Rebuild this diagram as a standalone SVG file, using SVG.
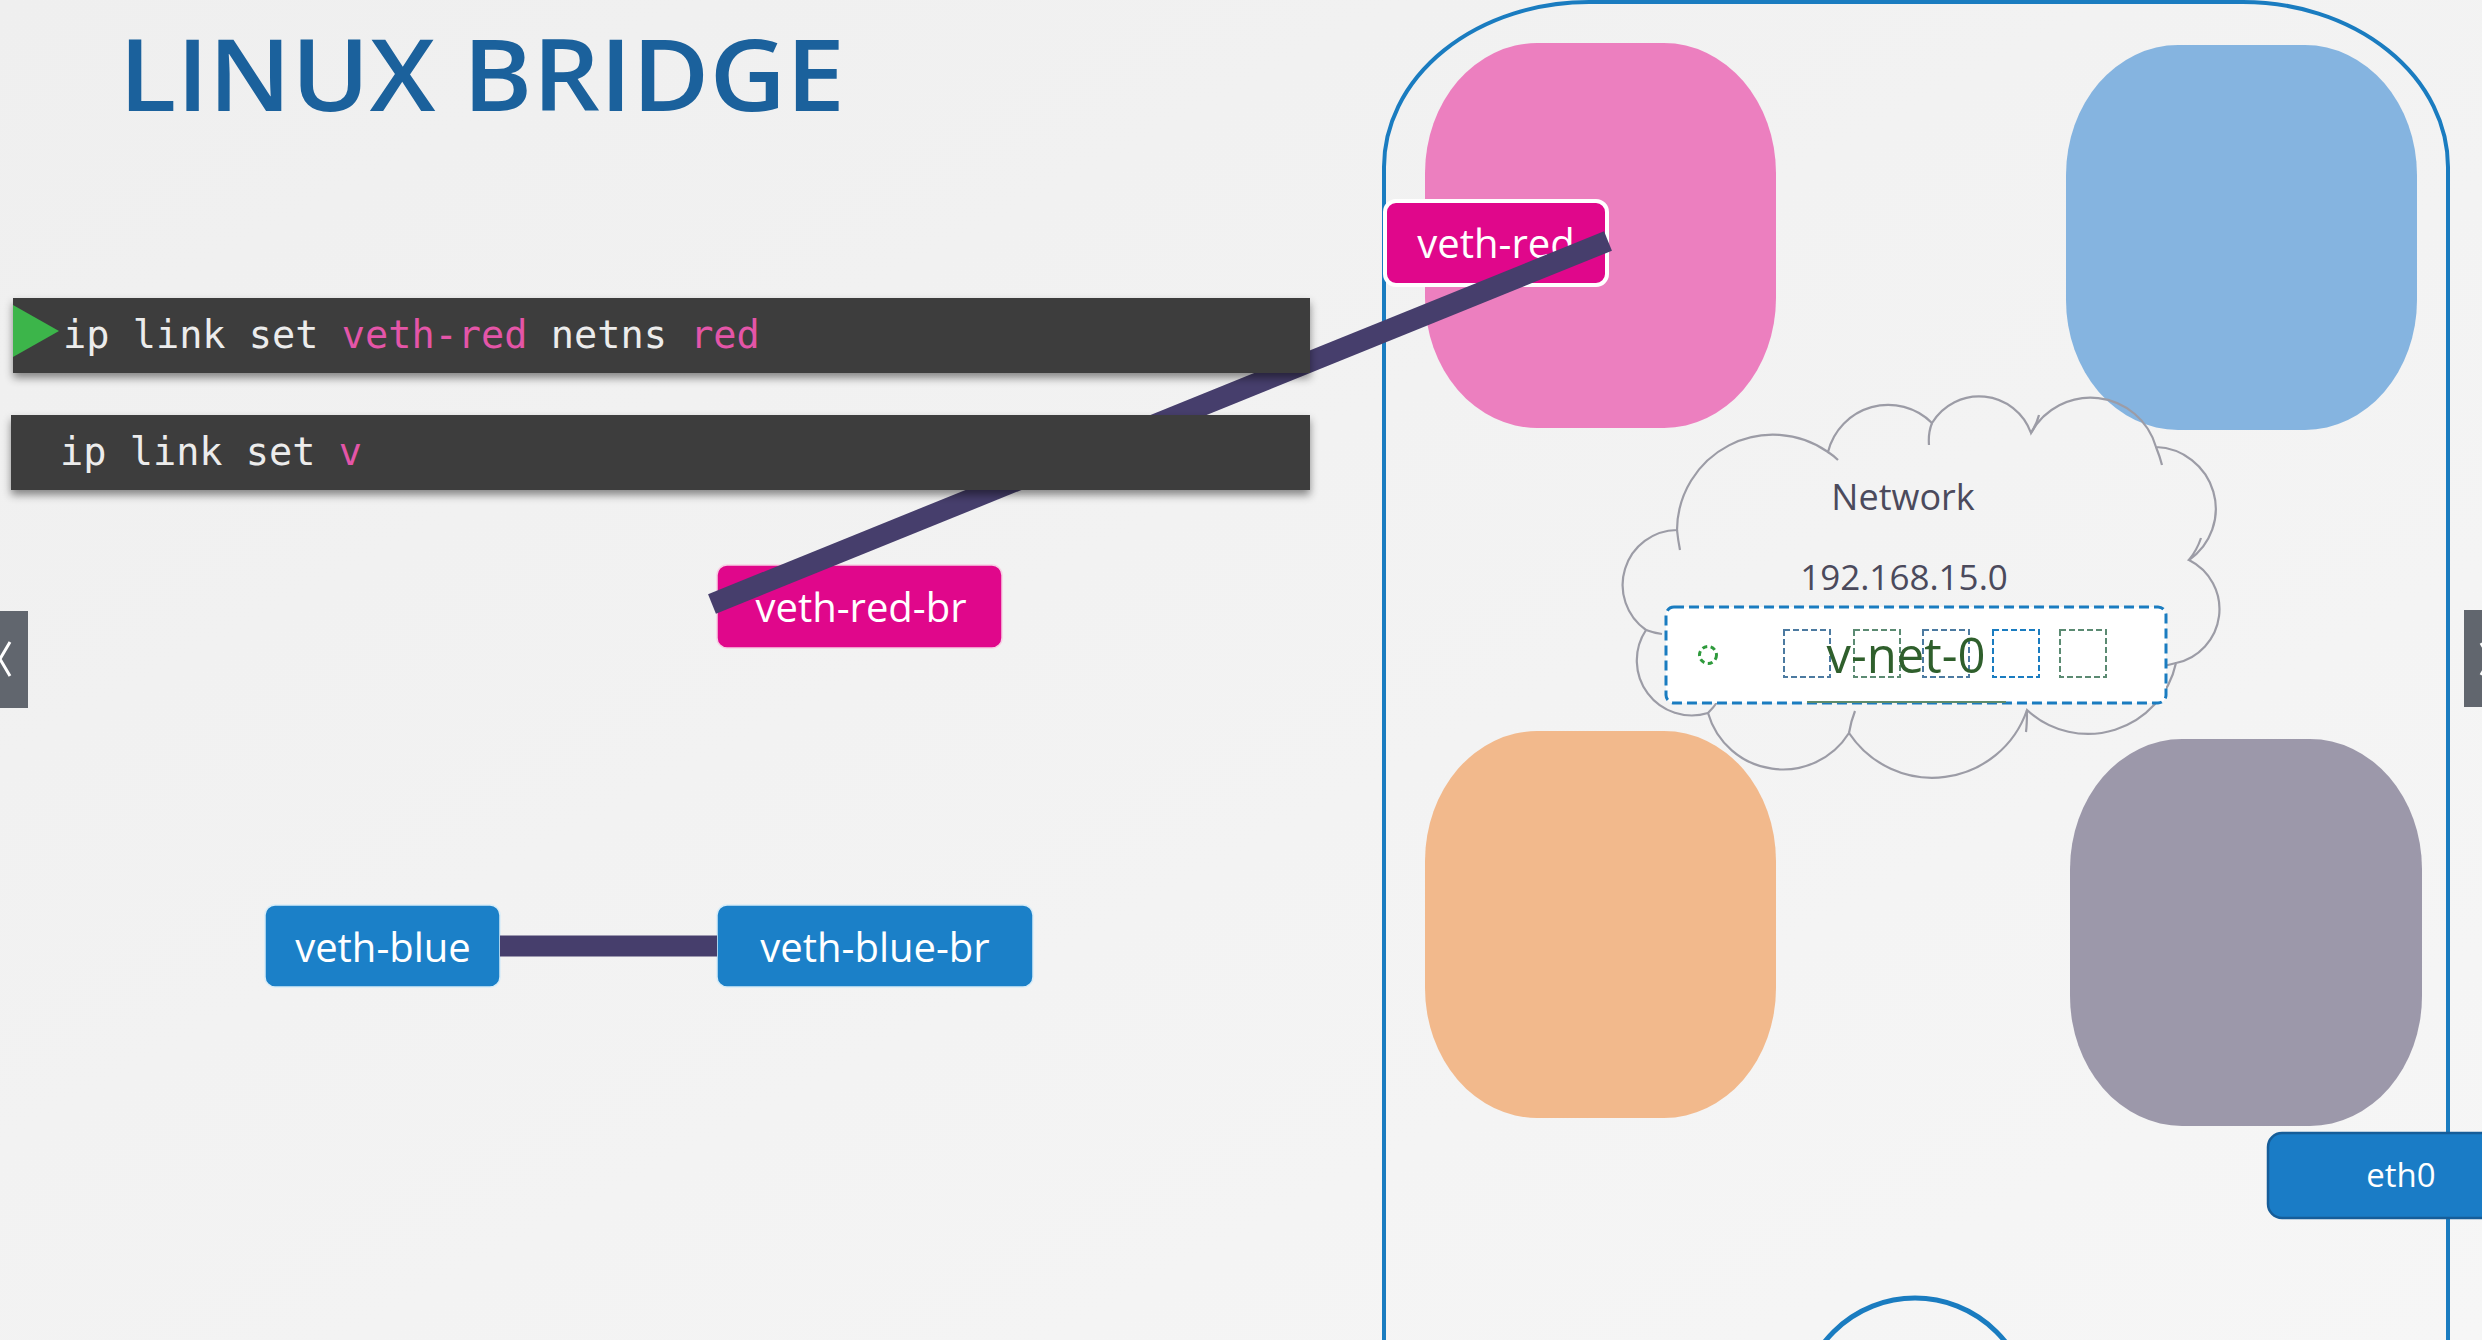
<svg xmlns="http://www.w3.org/2000/svg" width="2482" height="1340" viewBox="0 0 2482 1340">
  <defs>
    <linearGradient id="bg" x1="0" y1="0" x2="1" y2="1">
      <stop offset="0" stop-color="#efefef"/>
      <stop offset="1" stop-color="#f6f6f6"/>
    </linearGradient>
    <filter id="shadow" x="-5%" y="-20%" width="110%" height="160%">
      <feDropShadow dx="0" dy="5" stdDeviation="4" flood-color="#000" flood-opacity="0.45"/>
    </filter>
    <style>
      .title { font-family: "Open Sans", "Liberation Sans", sans-serif; font-weight: 600; fill: #1b619c; }
      .term { fill: #3d3d3d; }
      .cmd { font-family: "DejaVu Sans Mono", "Liberation Mono", monospace; font-size: 38.6px; fill: #ececec; }
      .hl { fill: #e455a8; }
      .lbl { font-family: "Open Sans", "Noto Sans", sans-serif; font-size: 40px; fill: #ffffff; text-anchor: middle; }
      .pinkbox { fill: #e0078b; }
      .bluebox { fill: #1b80c8; stroke: #d7ecf8; stroke-width: 1.5; }
      .ns { stroke: none; }
      .cloud { fill: none; stroke: #9c9ca6; stroke-width: 2.2; }
      .ctext { font-family: "Open Sans", "Noto Sans", sans-serif; fill: #4b4a5c; text-anchor: middle; }
      .link { stroke: #463e6c; stroke-width: 21; stroke-linecap: butt; fill: none; }
      .sq { fill: none; stroke-width: 2; stroke-dasharray: 6 3; }
    </style>
  </defs>

  <rect x="0" y="0" width="2482" height="1340" fill="url(#bg)"/>

  <!-- host container -->
  <g id="host">
    <rect x="1384" y="2" width="1064" height="1700" rx="205" ry="165" fill="none" stroke="#1a7cc0" stroke-width="4"/>
    <circle cx="1915" cy="1413" r="115" fill="none" stroke="#1a7cc0" stroke-width="5"/>
  </g>

  <!-- namespaces -->
  <g id="ns-red"><rect class="ns" x="1425" y="43" width="351" height="385" rx="112" ry="130" fill="#ec7fbf"/></g>
  <g id="ns-blue"><rect class="ns" x="2066" y="45" width="351" height="385" rx="112" ry="130" fill="#85b4e0"/></g>
  <g id="ns-orange"><rect class="ns" x="1425" y="731" width="351" height="387" rx="112" ry="130" fill="#f2b98c"/></g>
  <g id="ns-gray"><rect class="ns" x="2070" y="739" width="352" height="387" rx="112" ry="130" fill="#9c98aa"/></g>

  <!-- network cloud -->
  <g id="network">
    <path class="cloud" d="M1677,530 A96,96 0 0 1 1828,452 A62,62 0 0 1 1932,423 A55,55 0 0 1 2031,433 A68,68 0 0 1 2156,447 A62,62 0 0 1 2189,560 A55,55 0 0 1 2176,663 A90,90 0 0 1 2027,710 A100,100 0 0 1 1849,733 A78,78 0 0 1 1708,713 A55,55 0 0 1 1646,630 A55,55 0 0 1 1677,530 Z"/>
    <path class="cloud" d="M1828,452 q6,4 10,8 M1677,530 q1,10 3,20 M1932,423 q-4,10 -3,22 M2031,433 q6,-10 8,-18 M2156,447 q4,10 6,18 M2189,560 q8,-10 12,-22 M2176,663 q-8,2 -16,4 M2027,710 q0,14 -1,22 M1849,733 q2,-12 6,-22 M1708,713 q6,-6 10,-12 M1646,630 q8,3 16,4"/>
    <text class="ctext" x="1903" y="510" font-size="36">Network</text>
    <text class="ctext" x="1904" y="590" font-size="35">192.168.15.0</text>
  </g>

  <!-- bridge v-net-0 -->
  <g id="v-net-0">
    <rect x="1666" y="607" width="500" height="96" rx="8" fill="#ffffff" stroke="#1a7cc0" stroke-width="3" stroke-dasharray="10 5"/>
    <line x1="1807" y1="702" x2="2006" y2="702" stroke="#5f8a6a" stroke-width="2"/>
    <circle cx="1708" cy="655" r="8.5" fill="none" stroke="#2e9a3c" stroke-width="3" stroke-dasharray="5 3.5"/>
    <rect class="sq" x="1784" y="630" width="46" height="47" stroke="#4c7aa0"/>
    <rect class="sq" x="1854" y="630" width="46" height="47" stroke="#5b8a72"/>
    <rect class="sq" x="1923" y="630" width="46" height="47" stroke="#4c7aa0"/>
    <rect class="sq" x="1993" y="630" width="46" height="47" stroke="#1a7cc0"/>
    <rect class="sq" x="2060" y="630" width="46" height="47" stroke="#5b8a72"/>
    <text x="1906" y="673" font-family="Open Sans, Noto Sans, sans-serif" font-size="49" fill="#2f5f2c" text-anchor="middle">v-net-0</text>
  </g>

  <!-- interfaces -->
  <g id="veth-red">
    <rect class="pinkbox" x="1385" y="201" width="222" height="84" rx="11" stroke="#ffffff" stroke-width="4"/>
    <text class="lbl" x="1496" y="258">veth-red</text>
  </g>
  <g id="veth-red-br">
    <rect class="pinkbox" x="717" y="565" width="285" height="83" rx="10" stroke="#f6cfe4" stroke-width="1.5"/>
    <text class="lbl" x="861" y="622">veth-red-br</text>
  </g>
  <g id="veth-blue">
    <rect class="bluebox" x="265" y="905" width="235" height="82" rx="10"/>
    <text class="lbl" x="383" y="962">veth-blue</text>
  </g>
  <g id="veth-blue-br">
    <rect class="bluebox" x="717" y="905" width="316" height="82" rx="10"/>
    <text class="lbl" x="875" y="962">veth-blue-br</text>
  </g>
  <g id="eth0">
    <rect x="2268" y="1133" width="240" height="85" rx="14" fill="#1a7cc6" stroke="#165d99" stroke-width="2.5"/>
    <text x="2401" y="1187" font-family="Open Sans, Noto Sans, sans-serif" font-size="33" fill="#ffffff" text-anchor="middle">eth0</text>
  </g>

  <!-- connectors -->
  <g id="connectors">
    <line class="link" x1="712" y1="604" x2="1608" y2="241"/>
    <line class="link" x1="500" y1="946" x2="717" y2="946"/>
  </g>

  <!-- commands -->
  <g id="cmd1">
    <rect class="term" x="13" y="298" width="1297" height="75" filter="url(#shadow)"/>
    <polygon points="13,305 59,331 13,357" fill="#3cb54a"/>
    <text class="cmd" x="63" y="348">ip link set <tspan class="hl">veth-red</tspan> netns <tspan class="hl">red</tspan></text>
  </g>
  <g id="cmd2">
    <rect class="term" x="11" y="415" width="1299" height="75" filter="url(#shadow)"/>
    <text class="cmd" x="60" y="465">ip link set <tspan class="hl">v</tspan></text>
  </g>

  <!-- title -->
  <g id="title">
    <text class="title" x="119" y="111" font-size="99" textLength="726" lengthAdjust="spacingAndGlyphs">LINUX BRIDGE</text>
  </g>

  <!-- slide navigation buttons -->
  <g id="nav-prev">
    <rect x="0" y="611" width="28" height="97" fill="#61666e"/>
    <path d="M10,642 L0,659 L10,676" fill="none" stroke="#ffffff" stroke-width="3"/>
  </g>
  <g id="nav-next">
    <rect x="2464" y="610" width="18" height="97" fill="#61666e"/>
    <path d="M2481,643 L2490,659 L2481,675" fill="none" stroke="#ffffff" stroke-width="3"/>
  </g>
</svg>
